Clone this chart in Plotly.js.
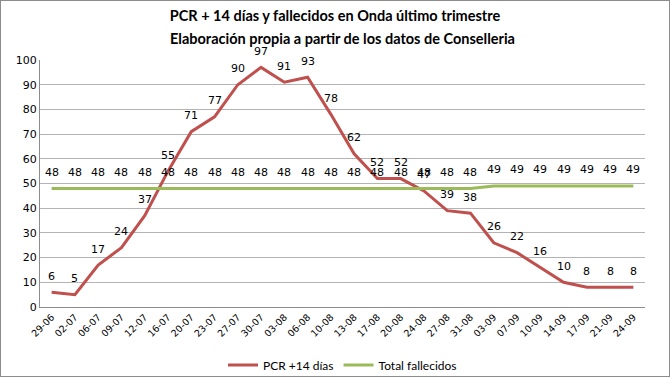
<!DOCTYPE html>
<html>
<head>
<meta charset="utf-8">
<script src="https://cdn.plot.ly/plotly-3.0.1.min.js"></script>
<style>
html,body{margin:0;padding:0;background:#fff;}
#chart{width:668px;height:375px;border:1px solid #8c8c8c;}
</style>
</head>
<body>
<div id="chart"></div>
<script>
const categories = ["29-06","02-07","06-07","09-07","12-07","16-07","20-07","23-07","27-07","30-07","03-08","06-08","10-08","13-08","17-08","20-08","24-08","27-08","31-08","03-09","07-09","10-09","14-09","17-09","21-09","24-09"];
const pcr = [6,5,17,24,37,55,71,77,90,97,91,93,78,62,52,52,47,39,38,26,22,16,10,8,8,8];
const fallecidos = [48,48,48,48,48,48,48,48,48,48,48,48,48,48,48,48,48,48,48,49,49,49,49,49,49,49];
const yTicks = [0,10,20,30,40,50,60,70,80,90,100];

const redColor = "#c0504d";
const greenColor = "#9bbb59";
const labelFont = {family: "DejaVu Sans, Verdana, sans-serif", size: 11, color: "#000"};

const traces = [
  {x: categories, y: pcr, type: "scatter", mode: "lines", name: "PCR +14 días",
   line: {color: redColor, width: 3}},
  {x: categories, y: fallecidos, type: "scatter", mode: "lines", name: "Total fallecidos",
   line: {color: greenColor, width: 3}}
];

const annotations = [];
fallecidos.forEach((v, i) => annotations.push({x: categories[i], y: v, text: String(v), showarrow: false, yshift: 16, font: labelFont}));
pcr.forEach((v, i) => annotations.push({x: categories[i], y: v, text: String(v), showarrow: false, yshift: 16, font: labelFont}));
annotations.push({xref: "paper", yref: "paper", x: 0.5, y: 1 + (59 - 38) / 247, yanchor: "middle", xanchor: "center",
  text: "<b>Elaboración propia a partir de los datos de Conselleria</b>", showarrow: false,
  font: {family: "Lato, sans-serif", size: 14.5, color: "#000"}});

const layout = {
  width: 668, height: 375,
  margin: {l: 39, r: 24, t: 59, b: 69},
  paper_bgcolor: "#fff", plot_bgcolor: "#fff",
  title: {text: "<b>PCR + 14 días y fallecidos en Onda último trimestre</b>", x: 0.5, xanchor: "center",
    y: 1 - 15/375, yanchor: "middle", font: {family: "Lato, sans-serif", size: 14.5, color: "#000"}},
  showlegend: true,
  legend: {orientation: "h", x: 0.5, xanchor: "center", yref: "container", y: (375 - 364) / 375, yanchor: "middle",
    font: {family: "Lato, sans-serif", size: 12, color: "#000"}, itemwidth: 30,
    tracegroupgap: 0},
  xaxis: {type: "category", tickangle: -45, showgrid: false, showline: true, linecolor: "#8c8c8c", linewidth: 1,
    ticks: "", automargin: false, tickfont: {family: "DejaVu Sans, Verdana, sans-serif", size: 9.5, color: "#000"},
    range: [-0.5, categories.length - 0.5], fixedrange: true},
  yaxis: {range: [0, 100], tickvals: yTicks, showgrid: true, gridcolor: "#b4b4b4", gridwidth: 1, automargin: false,
    showline: true, linecolor: "#8c8c8c", linewidth: 1, zeroline: false, ticks: "",
    tickfont: {family: "DejaVu Sans, Verdana, sans-serif", size: 11, color: "#000"}, fixedrange: true},
  annotations: annotations
};

Plotly.newPlot("chart", traces, layout, {displayModeBar: false, staticPlot: true});
</script>
</body>
</html>
